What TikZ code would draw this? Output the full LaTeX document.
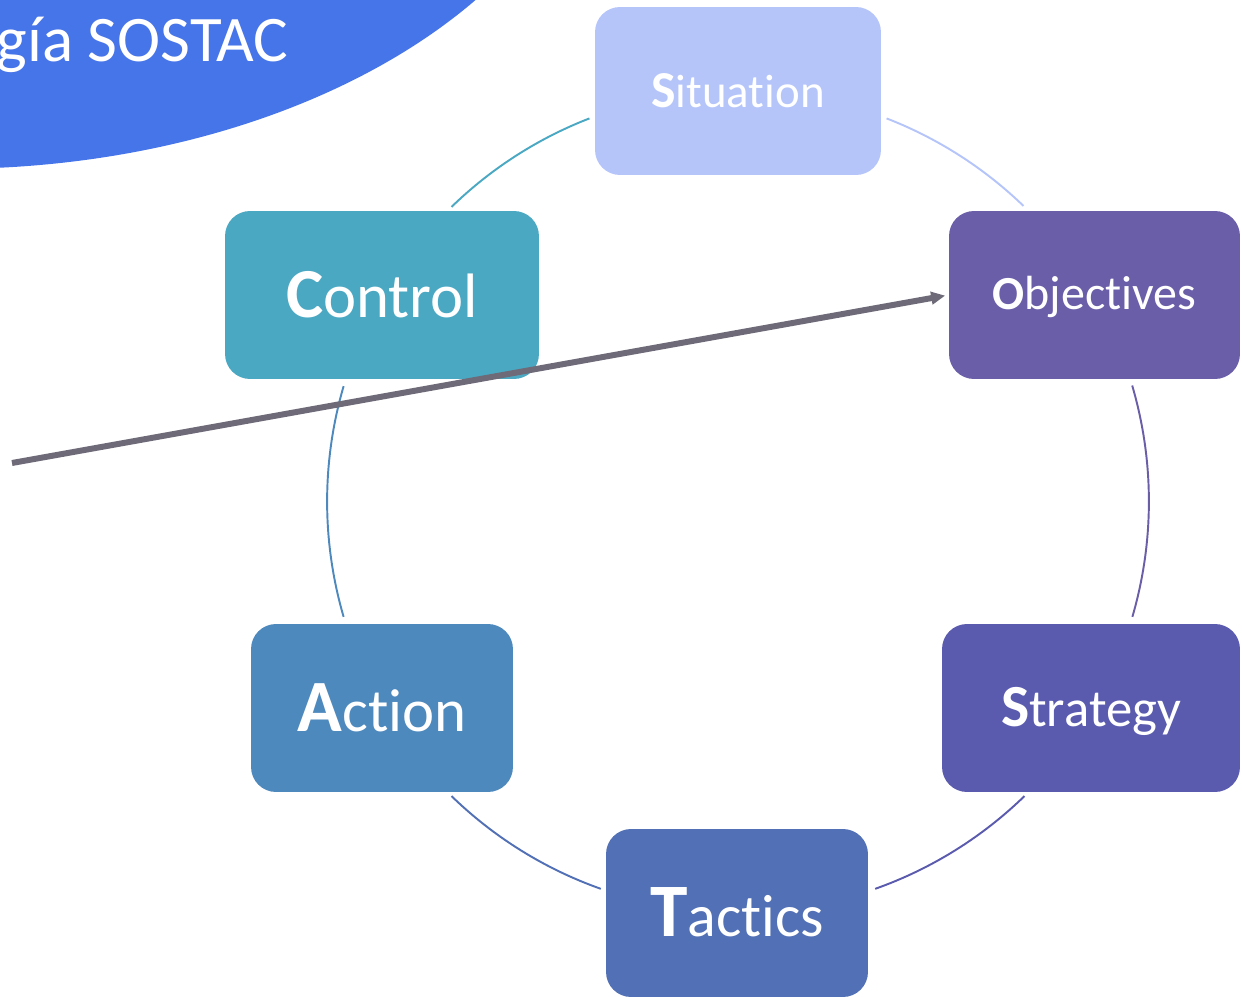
\documentclass[tikz,border=0pt]{standalone}
\usepackage{fontspec}
\setmainfont[Ligatures=NoCommon]{Carlito}
\usepackage{tikz}
\usetikzlibrary{calc,arrows.meta}
\definecolor{sitcol}{HTML}{B5C5FA}
\definecolor{objcol}{HTML}{6A5EA8}
\definecolor{strcol}{HTML}{5A5BAF}
\definecolor{taccol}{HTML}{5270B5}
\definecolor{actcol}{HTML}{4E89BE}
\definecolor{concol}{HTML}{4AA8C3}
\definecolor{titcol}{HTML}{4674E9}
\definecolor{arrcol}{HTML}{6E6A77}
\def\centerarc[#1](#2)(#3:#4:#5){\draw[#1] ($(#2)+(#3:#5)$) arc (#3:#4:#5);}
\newcommand\stagelabel[4]{{\fontsize{#1}{#1}\selectfont\bfseries #2}{\fontsize{#3}{#3}\selectfont #4}}
\tikzset{stage/.style={rounded corners=0.5cm, minimum height=3.36cm, inner sep=0pt, text=white, text depth=0pt}}

\begin{document}
\begin{tikzpicture}[x=0.02cm,y=-0.02cm]
	%%%%% START %%%%%
	\def\rad{8.22cm}
	\def\lw{1.1pt}
	\useasboundingbox (0,0) rectangle (1242,997);
	
	\fill[titcol] (-50,-250) ellipse [x radius=13.1cm, y radius=8.38cm];
	\node[anchor=base east, text=white, inner sep=0pt, font=\fontsize{37}{40}\selectfont] (title) at (289,62) {gía SOSTAC};
	
	\coordinate (cen) at (738,501.5);
	\centerarc[sitcol, line width=\lw](cen)(68.8:46:\rad);
	\centerarc[objcol, line width=\lw](cen)(16.4:-16.3:\rad);
	\centerarc[strcol, line width=\lw](cen)(-45.8:-70.5:\rad);
	\centerarc[taccol, line width=\lw](cen)(-109.5:-134.2:\rad);
	\centerarc[actcol, line width=\lw](cen)(196.3:163.7:\rad);
	\centerarc[concol, line width=\lw](cen)(134.2:111.2:\rad);
	
	\node[stage, fill=sitcol, minimum width=5.72cm, text height=18.6pt] (sit) at (738,91) {\stagelabel{29.5}{S}{26.7}{ituation}};
	\node[stage, fill=objcol, minimum width=5.82cm, text height=17pt] (obj) at (1094.5,295) {\stagelabel{27}{O}{27.3}{bjectives}};
	\node[stage, fill=strcol, minimum width=5.96cm, text height=21.4pt] (str) at (1091,708) {\stagelabel{34}{S}{30}{trategy}};
	\node[stage, fill=taccol, minimum width=5.24cm, text height=27.1pt] (tac) at (737,913) {\stagelabel{43}{T}{34}{actics}};
	\node[stage, fill=actcol, minimum width=5.24cm, text height=26.5pt] (act) at (382,708) {\stagelabel{42}{A}{34.6}{ction}};
	\node[stage, fill=concol, minimum width=6.28cm, text height=25.2pt] (con) at (382,295) {\stagelabel{40}{C}{35.7}{ontrol}};
	
	\coordinate (tail) at (12,463);
	\draw[arrcol, line width=3.4pt, -{Triangle[length=8pt,width=7pt]}, shorten >=2pt] (tail) -- (obj.west);
	%%%%% END %%%%%
\end{tikzpicture}
\end{document}
